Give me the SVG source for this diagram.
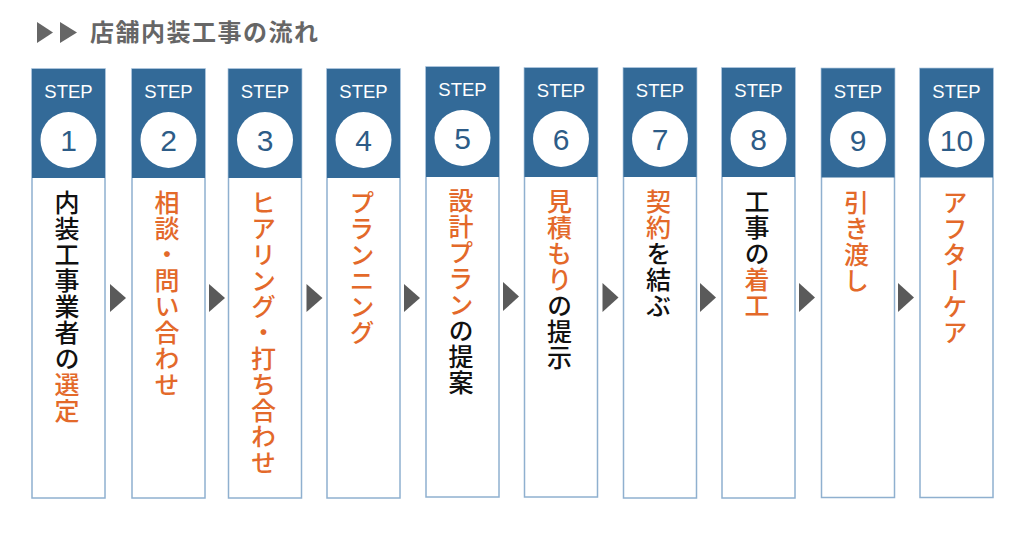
<svg xmlns="http://www.w3.org/2000/svg" width="1024" height="535" viewBox="0 0 1024 535">
<defs>
<style>
.hd{fill:#336a98}
.bd{fill:#fff;stroke:#8fb0cf;stroke-width:1.5}
.st{font-family:"Liberation Sans",Arial,sans-serif;font-size:18.5px;fill:#fff;text-anchor:middle}
.ci{fill:#fff}
.nu{font-family:"Liberation Sans",Arial,sans-serif;font-size:30px;fill:#2d5c87;text-anchor:middle}
.vt{font-family:"Noto Sans CJK JP",sans-serif;font-size:25px;font-weight:500;letter-spacing:1px;writing-mode:vertical-rl;fill:#111}
.or{fill:#e3692a}
.ar{fill:#5a5a5a}
.ti{font-family:"Noto Sans CJK JP",sans-serif;font-size:24px;font-weight:bold;fill:#666;letter-spacing:1.5px}
</style>
</defs>
<rect width="1024" height="535" fill="#fff"/>
<g id="title">
<polygon points="37,22 53,32.5 37,43" fill="#666"/>
<polygon points="60,22 77,32.5 60,43" fill="#666"/>
<text class="ti" x="90" y="41">店舗内装工事の流れ</text>
</g>
<g id="step1" transform="translate(32,69)">
<rect class="bd" x="0" y="0" width="73" height="429"/><rect class="hd" x="0" y="0" width="73" height="109"/>
<text class="st" x="36.5" y="29">STEP</text><circle class="ci" cx="36.5" cy="71" r="28"/><text class="nu" x="36.5" y="82">1</text>
<text class="vt" x="35" y="121">内装工事業者の<tspan class="or">選定</tspan></text>
</g>
<g id="step2" transform="translate(132,69)">
<rect class="bd" x="0" y="0" width="73" height="429"/><rect class="hd" x="0" y="0" width="73" height="109"/>
<text class="st" x="36.5" y="29">STEP</text><circle class="ci" cx="36.5" cy="71" r="28"/><text class="nu" x="36.5" y="82">2</text>
<text class="vt or" x="35" y="121">相談・問い合わせ</text>
</g>
<g id="step3" transform="translate(228.5,69)">
<rect class="bd" x="0" y="0" width="73" height="429"/><rect class="hd" x="0" y="0" width="73" height="109"/>
<text class="st" x="36.5" y="29">STEP</text><circle class="ci" cx="36.5" cy="71" r="28"/><text class="nu" x="36.5" y="82">3</text>
<text class="vt or" x="35" y="121">ヒアリング・打ち合わせ</text>
</g>
<g id="step4" transform="translate(327,69)">
<rect class="bd" x="0" y="0" width="73" height="429"/><rect class="hd" x="0" y="0" width="73" height="109"/>
<text class="st" x="36.5" y="29">STEP</text><circle class="ci" cx="36.5" cy="71" r="28"/><text class="nu" x="36.5" y="82">4</text>
<text class="vt or" x="35" y="121">プランニング</text>
</g>
<g id="step5" transform="translate(426,67)">
<rect class="bd" x="0" y="0" width="73" height="430"/><rect class="hd" x="0" y="0" width="73" height="110"/>
<text class="st" x="36.5" y="29">STEP</text><circle class="ci" cx="36.5" cy="71" r="28"/><text class="nu" x="36.5" y="82">5</text>
<text class="vt" x="35" y="121"><tspan class="or">設計プラン</tspan>の提案</text>
</g>
<g id="step6" transform="translate(524.5,68)">
<rect class="bd" x="0" y="0" width="73" height="429"/><rect class="hd" x="0" y="0" width="73" height="109"/>
<text class="st" x="36.5" y="29">STEP</text><circle class="ci" cx="36.5" cy="71" r="28"/><text class="nu" x="36.5" y="82">6</text>
<text class="vt" x="35" y="121"><tspan class="or">見積もり</tspan>の提示</text>
</g>
<g id="step7" transform="translate(623.5,68)">
<rect class="bd" x="0" y="0" width="73" height="430"/><rect class="hd" x="0" y="0" width="73" height="109"/>
<text class="st" x="36.5" y="29">STEP</text><circle class="ci" cx="36.5" cy="71" r="28"/><text class="nu" x="36.5" y="82">7</text>
<text class="vt" x="35" y="121"><tspan class="or">契約</tspan>を結ぶ</text>
</g>
<g id="step8" transform="translate(722,68)">
<rect class="bd" x="0" y="0" width="73" height="430"/><rect class="hd" x="0" y="0" width="73" height="109"/>
<text class="st" x="36.5" y="29">STEP</text><circle class="ci" cx="36.5" cy="71" r="28"/><text class="nu" x="36.5" y="82">8</text>
<text class="vt" x="35" y="121">工事の<tspan class="or">着工</tspan></text>
</g>
<g id="step9" transform="translate(821.5,68.5)">
<rect class="bd" x="0" y="0" width="73" height="429"/><rect class="hd" x="0" y="0" width="73" height="109"/>
<text class="st" x="36.5" y="29">STEP</text><circle class="ci" cx="36.5" cy="71" r="28"/><text class="nu" x="36.5" y="82">9</text>
<text class="vt or" x="35" y="121">引き渡し</text>
</g>
<g id="step10" transform="translate(920,68.5)">
<rect class="bd" x="0" y="0" width="73" height="429"/><rect class="hd" x="0" y="0" width="73" height="109"/>
<text class="st" x="36.5" y="29">STEP</text><circle class="ci" cx="36.5" cy="71" r="28"/><text class="nu" x="36.5" y="82">10</text>
<text class="vt or" x="35" y="121">アフターケア</text>
</g>
<g id="connectors">
<polygon class="ar" points="110,284 126,298 110,312"/>
<polygon class="ar" points="209,284 225,298 209,312"/>
<polygon class="ar" points="306.5,284 322.5,298 306.5,312"/>
<polygon class="ar" points="404,284 420,298 404,312"/>
<polygon class="ar" points="503,282 519,296.5 503,311"/>
<polygon class="ar" points="602.5,283 618.5,297.5 602.5,312"/>
<polygon class="ar" points="700,283 716,297.5 700,312"/>
<polygon class="ar" points="799,283 815,297.5 799,312"/>
<polygon class="ar" points="898,283 914,297.5 898,312"/>
</g>
</svg>
